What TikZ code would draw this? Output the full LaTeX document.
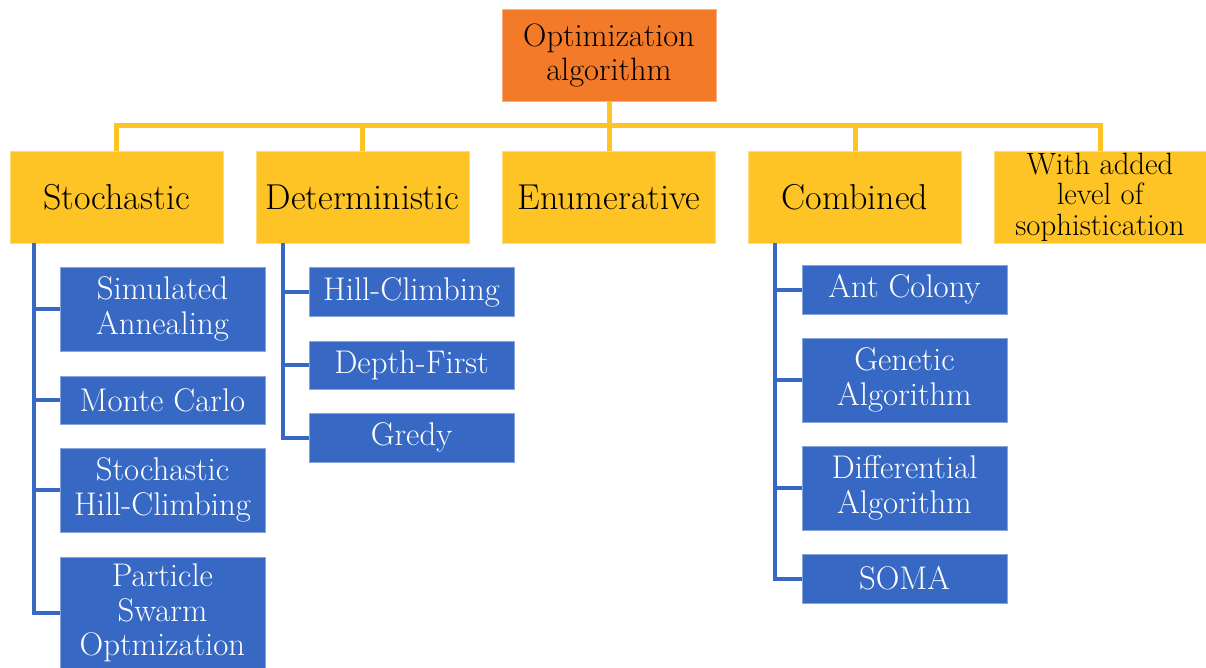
\documentclass[tikz,border=0pt]{standalone}
\usepackage{fontspec}
\definecolor{orangeC}{HTML}{F37A29}
\definecolor{yellowC}{HTML}{FEC425}
\definecolor{blueC}{HTML}{3769C4}
\begin{document}
\begin{tikzpicture}[x=1pt,y=-1pt,
  topbox/.style={fill=orangeC,draw=orangeC!60!white,line width=0.8pt,inner sep=0pt,align=center,
    minimum width=214pt,minimum height=92pt,font=\fontsize{32.4}{34}\selectfont,text=black},
  catbox/.style={fill=yellowC,draw=yellowC!60!white,line width=0.8pt,inner sep=0pt,align=center,
    minimum width=213pt,minimum height=92pt,font=\fontsize{36}{38}\selectfont,text=black},
  catsmall/.style={catbox,font=\fontsize{30.8}{30.5}\selectfont},
  leafbox/.style={fill=blueC,draw=blueC!60!white,line width=0.8pt,inner sep=0pt,align=center,
    minimum width=205pt,font=\fontsize{32.8}{34.5}\selectfont,text=white},
  ybus/.style={draw=yellowC,line width=5pt},
  bbus/.style={draw=blueC,line width=4pt}
]
\useasboundingbox (0,0) rectangle (1206,668);

% top
\node[topbox] (top) at (609,55) {Optimization\\algorithm};

% categories
\node[catbox] (stoch) at (116.5,197) {Stochastic};
\node[catbox] (det) at (362.5,197) {Deterministic};
\node[catbox] (enum) at (609,197) {Enumerative};
\node[catbox] (comb) at (855,197) {Combined};
\node[catsmall,minimum width=212pt] (soph) at (1100,197) {With added\\level of\\sophistication};

% leaves: stochastic
\node[leafbox,minimum height=84pt] (sa) at (162.5,309) {Simulated\\Annealing};
\node[leafbox,minimum height=48pt] (mc) at (162.5,400) {Monte Carlo};
\node[leafbox,minimum height=84pt] (shc) at (162.5,490) {Stochastic\\Hill-Climbing};
\node[leafbox,minimum height=112pt] (pso) at (162.5,613) {Particle\\Swarm\\Optmization};

% leaves: deterministic
\node[leafbox,minimum height=49pt] (hc) at (411.5,292) {Hill-Climbing};
\node[leafbox,minimum height=48pt] (df) at (411.5,365) {Depth-First};
\node[leafbox,minimum height=49pt] (gr) at (411.5,437.5) {Gredy};

% leaves: combined
\node[leafbox,minimum height=49pt] (ac) at (904.5,289.5) {Ant Colony};
\node[leafbox,minimum height=84pt] (ga) at (904.5,380) {Genetic\\Algorithm};
\node[leafbox,minimum height=84pt] (da) at (904.5,488) {Differential\\Algorithm};
\node[leafbox,minimum height=49pt] (soma) at (904.5,578.5) {SOMA};

% yellow bus
\coordinate (busmid) at (609,126);
\draw[ybus] (stoch.north) |- (busmid) -| (soph.north);
\draw[ybus] (top.south) -- (busmid);
\draw[ybus] (det.north) -- (det.north |- busmid);
\draw[ybus] (enum.north) -- (enum.north |- busmid);
\draw[ybus] (comb.north) -- (comb.north |- busmid);

% blue spines
\coordinate (sS) at (34,243);
\coordinate (sD) at (283,243);
\coordinate (sC) at (775,243);
\foreach \c in {sa,mc,shc,pso} \draw[bbus] (sS) |- (\c.west);
\foreach \c in {hc,df,gr} \draw[bbus] (sD) |- (\c.west);
\foreach \c in {ac,ga,da,soma} \draw[bbus] (sC) |- (\c.west);
\end{tikzpicture}
\end{document}
